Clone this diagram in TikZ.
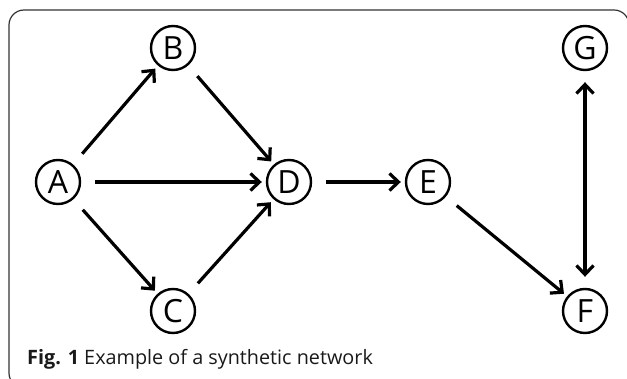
\documentclass[tikz,border=0pt]{standalone}
\usepackage{fontspec}
\setmainfont{Open Sans}
\usetikzlibrary{arrows.meta}
\tikzset{
  vert/.style={draw=black, line width=2.4pt, circle, minimum size=44pt, inner sep=0pt, font=\fontsize{32}{32}\selectfont},
  barb/.style={Straight Barb[length=9pt,width=17pt,line width=3.2pt]},
  edge/.style={line width=3.2pt, -{Straight Barb[length=9pt,width=17pt,line width=3.2pt]}, shorten <=14pt, shorten >=4pt},
  biedge/.style={line width=3.2pt, {Straight Barb[length=9pt,width=17pt,line width=3.2pt]}-{Straight Barb[length=9pt,width=17pt,line width=3.2pt]}, shorten <=11pt, shorten >=11pt},
  frame/.style={draw=black!80, line width=1.2pt, rounded corners=15pt}
}
\begin{document}
\begin{tikzpicture}[x=1pt,y=-1pt]
\useasboundingbox (0,0) rectangle (627,379);
\begin{scope}
\clip (0,0) rectangle (627,379);
\draw[frame] (9,10) rectangle (629,388);
\end{scope}
\node[vert] (A) at (58,182) {A};
\node[vert] (B) at (173,48) {B};
\node[vert] (C) at (173,311) {C};
\node[vert] (D) at (289,182) {D};
\node[vert] (E) at (428,182) {E};
\node[vert] (F) at (585,311) {F};
\node[vert] (G) at (585,48) {G};
\draw[edge] (A) -- (B);
\draw[edge] (B) -- (D);
\draw[edge] (A) -- (D);
\draw[edge] (A) -- (C);
\draw[edge] (C) -- (D);
\draw[edge] (D) -- (E);
\draw[edge] (E) -- (F);
\draw[biedge] (G) -- (F);
\node[anchor=base west, inner sep=0pt, font=\fontsize{19.8}{20}\selectfont, text=black!90] (cap) at (27,365) {\textbf{Fig. 1} Example of a synthetic network};
\end{tikzpicture}
\end{document}
